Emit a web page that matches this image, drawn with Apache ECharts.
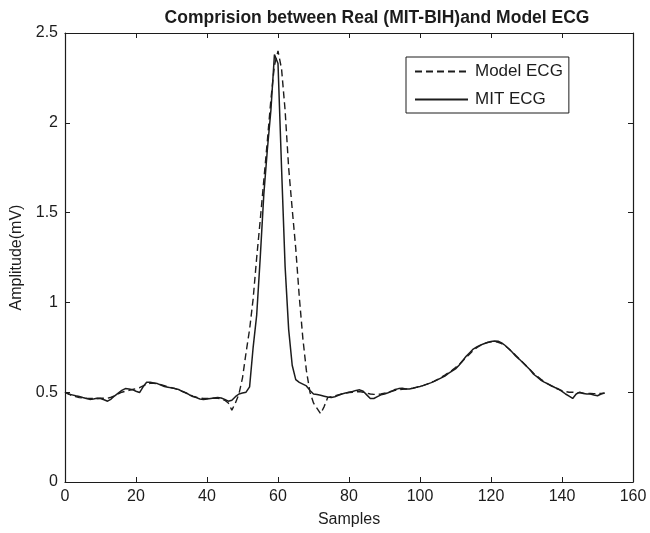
<!DOCTYPE html>
<html>
<head>
<meta charset="utf-8">
<title>ECG comparison</title>
<script src="https://cdn.jsdelivr.net/npm/echarts@6/dist/echarts.min.js"></script>
<style>
  html, body { margin: 0; padding: 0; background: #ffffff; }
  #chart { width: 650px; height: 533px; }
</style>
</head>
<body>
<div id="chart"></div>
<script>
// Amplitude (mV) per sample index, starting at sample 0.
const mitEcg = [
  0.50, 0.49, 0.485, 0.48, 0.476, 0.47, 0.465, 0.46, 0.462, 0.466,
  0.465, 0.458, 0.45, 0.462, 0.48, 0.495, 0.51, 0.52, 0.518, 0.514,
  0.505, 0.498, 0.53, 0.555, 0.556, 0.552, 0.548, 0.54, 0.532, 0.528,
  0.524, 0.52, 0.515, 0.505, 0.497, 0.486, 0.476, 0.47, 0.462, 0.46,
  0.462, 0.465, 0.468, 0.47, 0.468, 0.46, 0.45, 0.455, 0.475, 0.49,
  0.495, 0.50, 0.53, 0.75, 0.93, 1.25, 1.60, 1.85, 2.07, 2.38,
  2.33, 1.75, 1.20, 0.85, 0.65, 0.57, 0.555, 0.545, 0.535, 0.51,
  0.49, 0.487, 0.483, 0.478, 0.473, 0.47, 0.475, 0.483, 0.49, 0.495,
  0.50, 0.504, 0.51, 0.513, 0.505, 0.485, 0.465, 0.465, 0.475, 0.485,
  0.49, 0.497, 0.505, 0.515, 0.52, 0.522, 0.518, 0.518, 0.522, 0.527,
  0.532, 0.538, 0.545, 0.552, 0.56, 0.57, 0.58, 0.59, 0.605, 0.618,
  0.63, 0.65, 0.675, 0.70, 0.72, 0.74, 0.752, 0.762, 0.77, 0.777,
  0.782, 0.785, 0.784, 0.775, 0.76, 0.742, 0.722, 0.70, 0.683, 0.664,
  0.645, 0.625, 0.60, 0.585, 0.568, 0.556, 0.546, 0.536, 0.526, 0.518,
  0.505, 0.49, 0.478, 0.465, 0.49, 0.50, 0.493, 0.49, 0.49, 0.484,
  0.48, 0.49, 0.495
];

const modelEcg = [
  0.50, 0.49, 0.48, 0.475, 0.47, 0.468, 0.466, 0.465, 0.465, 0.465,
  0.466, 0.466, 0.467, 0.472, 0.48, 0.49, 0.50, 0.505, 0.51, 0.515,
  0.52, 0.525, 0.535, 0.545, 0.55, 0.55, 0.547, 0.542, 0.536, 0.53,
  0.525, 0.52, 0.513, 0.505, 0.496, 0.487, 0.478, 0.472, 0.467, 0.465,
  0.465, 0.466, 0.467, 0.466, 0.462, 0.455, 0.44, 0.40, 0.44, 0.49,
  0.58, 0.72, 0.85, 1.02, 1.25, 1.46, 1.68, 1.90, 2.13, 2.32,
  2.40, 2.30, 2.07, 1.75, 1.52, 1.30, 1.03, 0.80, 0.62, 0.50,
  0.44, 0.41, 0.38, 0.42, 0.47, 0.475, 0.48, 0.485, 0.49, 0.495,
  0.498, 0.50, 0.502, 0.503, 0.50, 0.495, 0.49, 0.488, 0.488, 0.49,
  0.495, 0.50, 0.505, 0.51, 0.513, 0.516, 0.518, 0.52, 0.523, 0.527,
  0.532, 0.538, 0.545, 0.553, 0.562, 0.572, 0.583, 0.595, 0.608, 0.622,
  0.637, 0.654, 0.673, 0.693, 0.713, 0.732, 0.748, 0.76, 0.77, 0.777,
  0.78, 0.781, 0.778, 0.77, 0.758, 0.742, 0.724, 0.705, 0.685, 0.665,
  0.645, 0.625, 0.606, 0.589, 0.573, 0.558, 0.546, 0.535, 0.525, 0.516,
  0.508, 0.503, 0.50, 0.50, 0.498, 0.497, 0.495, 0.494, 0.493, 0.492,
  0.492, 0.493, 0.495
];

const seriesNames = ['Model ECG', 'MIT ECG'];
const chartTitle = 'Comprision between Real (MIT-BIH)and Model ECG';
const xAxisTitle = 'Samples';
const yAxisTitle = 'Amplitude(mV)';

const FONT = '"Liberation Sans", Arial, sans-serif';
const INK = '#1c1c1c';

// pair each amplitude with its sample index
const toPoints = arr => arr.map((v, i) => [i, v]);

// box-style axes: lines on all four sides, ticks pointing into the plot
const axisCommon = {
  axisLine: { show: true, onZero: false, lineStyle: { color: INK, width: 1.2 } },
  axisTick: { show: true, inside: true, length: 5, lineStyle: { color: INK, width: 1 } },
  splitLine: { show: false }
};

const chart = echarts.init(document.getElementById('chart'), null, { renderer: 'canvas' });

chart.setOption({
  backgroundColor: '#ffffff',
  animation: false,
  title: {
    text: chartTitle,
    left: 372,
    textAlign: 'center',
    top: 4,
    textStyle: { fontFamily: FONT, fontSize: 17.5, fontWeight: 'bold', color: INK }
  },
  legend: {
    data: seriesNames,
    orient: 'vertical',
    left: 406,
    top: 57,
    itemWidth: 53,
    itemHeight: 10,
    itemGap: 11,
    padding: [6, 6, 5, 8],
    borderColor: INK,
    borderWidth: 1,
    backgroundColor: '#ffffff',
    itemStyle: { opacity: 0 },
    textStyle: { fontFamily: FONT, fontSize: 17, color: INK, padding: [0, 0, 0, 2] }
  },
  grid: { left: 65, right: 17, top: 33, bottom: 50, containLabel: false },
  xAxis: [
    Object.assign({}, axisCommon, {
      type: 'value', min: 0, max: 160, interval: 20, position: 'bottom',
      name: xAxisTitle, nameLocation: 'middle', nameGap: 30,
      nameTextStyle: { fontFamily: FONT, fontSize: 16, color: INK },
      axisLabel: { fontFamily: FONT, fontSize: 16, color: INK, margin: 7 }
    }),
    Object.assign({}, axisCommon, {
      type: 'value', min: 0, max: 160, interval: 20, position: 'top',
      axisLabel: { show: false }
    })
  ],
  yAxis: [
    Object.assign({}, axisCommon, {
      type: 'value', min: 0, max: 2.5, interval: 0.5, position: 'left',
      name: yAxisTitle, nameLocation: 'middle', nameGap: 33,
      nameTextStyle: { fontFamily: FONT, fontSize: 16, color: INK },
      axisLabel: { fontFamily: FONT, fontSize: 16, color: INK, margin: 7 }
    }),
    Object.assign({}, axisCommon, {
      type: 'value', min: 0, max: 2.5, interval: 0.5, position: 'right',
      axisLabel: { show: false }
    })
  ],
  series: [
    {
      name: seriesNames[0],
      type: 'line',
      data: toPoints(modelEcg),
      symbol: 'none',
      lineStyle: { color: INK, width: 1.4, type: [7, 4] },
      itemStyle: { color: INK },
      z: 3
    },
    {
      name: seriesNames[1],
      type: 'line',
      data: toPoints(mitEcg),
      symbol: 'none',
      lineStyle: { color: INK, width: 1.5, type: 'solid' },
      itemStyle: { color: INK },
      z: 2
    }
  ]
});
</script>
</body>
</html>
